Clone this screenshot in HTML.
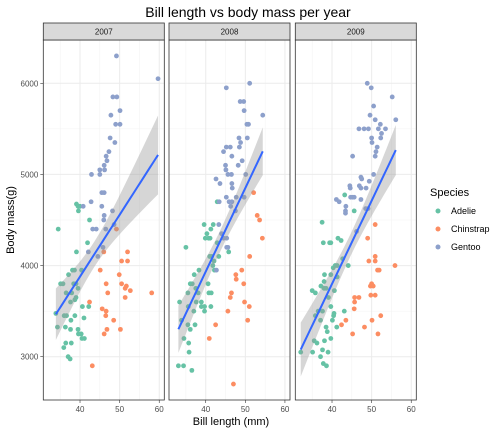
<!DOCTYPE html>
<html><head><meta charset="utf-8">
<style>
body{margin:0;background:#fff;}
svg{display:block;font-family:"Liberation Sans",sans-serif;}
</style></head>
<body>
<svg id="chart" width="504" height="432" viewBox="0 0 504 432" xmlns="http://www.w3.org/2000/svg">
<text x="248" y="17" font-size="14" text-anchor="middle" fill="#000">Bill length vs body mass per year</text>
<text transform="translate(14,220) rotate(-90)" font-size="11" text-anchor="middle" fill="#000">Body mass(g)</text>
<text x="231" y="425" font-size="11" text-anchor="middle" fill="#000">Bill length (mm)</text>
<g>
<text x="430" y="196" font-size="11">Species</text>
<circle cx="438" cy="211" r="2.5" fill="#66C2A5"/>
<text x="451" y="214" font-size="9">Adelie</text>
<circle cx="438" cy="229" r="2.5" fill="#FC8D62"/>
<text x="451" y="232" font-size="9">Chinstrap</text>
<circle cx="438" cy="247" r="2.5" fill="#8DA0CB"/>
<text x="451" y="250" font-size="9">Gentoo</text>
</g>
</svg>
<script>
const years = ["2007","2008","2009"];
const yTicks = [3000,4000,5000,6000];
const xTicks = [40,50,60];
// [bill length, body mass]
const adelie2007 = [[34.5,4400],[39.1,4675],[39.5,4650],[40,4650],[39.6,4600],[42.4,4500],[41.9,4250],[39.1,4150],[38.1,3950],[38.6,3950],[40.4,3950],[37.1,3900],[35.1,3800],[35.7,3800],[38.4,3800],[39,3800],[36.5,3700],[37.9,3700],[39.5,3750],[39,3650],[38.7,3625],[37.6,3600],[33.9,3475],[40.6,3550],[42.2,3550],[36,3450],[36.6,3450],[38.7,3450],[37.7,3400],[41,3425],[34.3,3325],[36.3,3325],[37.6,3300],[39.5,3300],[39.6,3250],[40.3,3250],[40.5,3200],[41.1,3200],[36.4,3150],[37.8,3150],[35.9,3100],[37,3000],[37.5,2975]];
const chinstrap2007 = [[49.2,4400],[46,4150],[52,4150],[50.5,4050],[52,4050],[45.1,3950],[49.9,3900],[46.6,3800],[50.5,3800],[51.7,3775],[47,3700],[51.4,3750],[52.7,3725],[51.4,3650],[58.1,3700],[42.4,3600],[45.6,3525],[46.6,3500],[46.5,3450],[48.5,3400],[46.8,3300],[50.2,3300],[46.1,3250],[43.1,2900]];
const gentoo2007 = [[49.2,6300],[59.7,6050],[48.3,5850],[49.3,5850],[50.1,5700],[47.8,5650],[49,5550],[50.1,5550],[47.6,5400],[48.8,5350],[47.3,5250],[46.6,5200],[46.8,5150],[46.1,5100],[45,5050],[46.2,5050],[42.9,5000],[45,5000],[45.5,4800],[46.1,4800],[42.8,4700],[40.8,4650],[45.5,4650],[48.2,4600],[46.1,4550],[46,4500],[48.6,4450],[43.2,4400],[44.1,4400],[46.5,4400],[45.8,4200],[42.1,4150],[44.5,4100]];
const adelie2008 = [[42.9,4700],[39.6,4450],[41.9,4450],[41.3,4400],[40.3,4350],[39.9,4300],[40.7,4300],[41.1,4300],[42.9,4250],[35,4200],[45.8,4150],[41,4100],[41.5,4100],[43.3,4100],[42.1,4050],[41.8,4000],[42.2,3950],[38.3,3950],[37.1,3900],[40.6,3800],[36.1,3800],[36.6,3800],[37.5,3750],[35.5,3700],[38.1,3700],[40.8,3700],[41.4,3700],[33.4,3600],[37.6,3600],[38.9,3600],[35.6,3550],[38.9,3550],[39.7,3550],[41.3,3550],[37,3500],[39.7,3500],[33.9,3400],[36.1,3300],[35.5,3350],[37.3,3350],[34.5,3200],[35.7,3150],[35.8,3050],[33.1,2900],[34.4,2900],[36.5,2850]];
const chinstrap2008 = [[52.1,4800],[53,4550],[53.6,4500],[54.3,4300],[51.1,4100],[49.1,3950],[47.6,3900],[47.7,3850],[49.6,3800],[46.5,3700],[46.2,3650],[49.8,3600],[51,3550],[45.6,3500],[50.6,3400],[42.5,3350],[40.9,3200],[47,2700]];
const gentoo2008 = [[51.1,6000],[45.2,5950],[48.7,5800],[49.6,5800],[49.7,5700],[50.4,5550],[50.8,5550],[54.4,5650],[48.4,5400],[50.5,5400],[48.8,5350],[45.2,5300],[46.2,5300],[48.5,5300],[44.5,5250],[46.6,5200],[49.2,5150],[45,5100],[48.2,5100],[45.1,5050],[45.6,5000],[46.5,5000],[50.1,5000],[42.6,4950],[43.6,4900],[46.6,4900],[46.7,4850],[45.2,4750],[47.7,4750],[49.7,4750],[45.9,4700],[46.6,4700],[43.4,4700],[46.3,4650],[47.5,4600],[43.3,4450],[44,4350],[44.5,4300],[45.3,4300],[45.3,4200],[45.6,4200],[42.7,3950]];
const adelie2009 = [[43.2,4775],[45.6,4600],[37.5,4475],[37.8,4250],[39.4,4250],[39.7,4250],[41.5,4300],[42.3,4275],[42.7,4075],[40.3,3975],[40.8,4000],[41.3,4000],[44.1,4000],[38.1,3900],[41.3,3875],[39.7,3900],[38,3825],[37.2,3775],[38,3750],[38.5,3750],[40.6,3725],[35,3725],[35.8,3700],[39.1,3650],[39.7,3550],[36.5,3500],[37.6,3500],[43.1,3500],[40.5,3475],[40.4,3450],[35.8,3450],[37.1,3400],[40.1,3400],[38.5,3325],[41.2,3325],[38.8,3275],[35.5,3175],[36.2,3150],[38.1,3175],[39.7,3200],[32.1,3050],[35.1,3050],[37.6,3075],[39,3050],[37.1,3000],[37.8,2925],[38.6,2900]];
const chinstrap2009 = [[50.9,4450],[49,4300],[50.9,4100],[50.9,4050],[49.3,4050],[55.9,4000],[51.5,3950],[51.9,3950],[50,3800],[49.7,3775],[50.4,3775],[49.8,3675],[50.9,3675],[45.7,3650],[46.8,3650],[45.7,3600],[45.6,3525],[52.3,3450],[50.1,3400],[43.5,3400],[42.4,3350],[48.2,3325],[45.2,3250],[51.6,3250]];
const gentoo2009 = [[48.9,6000],[49.9,5950],[55.2,5850],[50.5,5750],[49.6,5650],[56.1,5600],[50.9,5600],[52.2,5550],[46.8,5500],[48.1,5500],[49.2,5500],[51.7,5500],[53.5,5500],[52.5,5450],[50,5400],[52.3,5400],[50.1,5350],[51.4,5300],[51.1,5250],[50.9,5200],[45.2,5200],[50.5,5000],[47.3,4970],[47.5,4950],[49.4,4925],[44.5,4875],[44.6,4850],[46.9,4875],[47.3,4850],[48.6,4850],[44.7,4750],[45.2,4750],[45.6,4750],[47.3,4725],[41.1,4725],[41.8,4700],[43.5,4650],[48.5,4625],[49.1,4625],[43.4,4600],[43.4,4575],[46.2,4375]];

const panelData = [
  {adelie:adelie2007, chinstrap:chinstrap2007, gentoo:gentoo2007},
  {adelie:adelie2008, chinstrap:chinstrap2008, gentoo:gentoo2008},
  {adelie:adelie2009, chinstrap:chinstrap2009, gentoo:gentoo2009}
];
const colors = {adelie:"#66C2A5", chinstrap:"#FC8D62", gentoo:"#8DA0CB"};

const NS="http://www.w3.org/2000/svg";
const svg=document.getElementById("chart");
const panelX0=[43.3,169,295.3], PW=121, PT=40, PB=400;
const XMIN=30.73, XMAX=61.28, YMIN=2525, YMAX=6475;
function mk(tag,attrs,parent){const e=document.createElementNS(NS,tag);for(const k in attrs)e.setAttribute(k,attrs[k]);(parent||svg).appendChild(e);return e;}
function fit(pts){
  const n=pts.length;let mx=0,my=0;pts.forEach(p=>{mx+=p[0];my+=p[1];});mx/=n;my/=n;
  let sxx=0,sxy=0;pts.forEach(p=>{sxx+=(p[0]-mx)**2;sxy+=(p[0]-mx)*(p[1]-my);});
  const b=sxy/sxx,a=my-b*mx;let sse=0;pts.forEach(p=>{sse+=(p[1]-a-b*p[0])**2;});
  const s=Math.sqrt(sse/(n-2));
  return {a,b,s,mx,sxx,n};
}
panelData.forEach((pd,i)=>{
  const x0=panelX0[i];
  const sx=v=>x0+(v-XMIN)/(XMAX-XMIN)*PW;
  const sy=v=>PB-(v-YMIN)/(YMAX-YMIN)*(PB-PT);
  const g=mk("g",{});
  
  
  const bg=mk("rect",{x:x0,y:PT,width:PW,height:PB-PT,fill:"#fff"},g);
  
  
  // minor grid
  [2500,3500,4500,5500,6500].forEach(v=>{if(v>YMIN&&v<YMAX){const l=mk("line",{x1:x0,x2:x0+PW,y1:sy(v),y2:sy(v),stroke:"#F2F2F2","stroke-width":0.5},g);}});
  [35,45,55].forEach(v=>{const l=mk("line",{x1:sx(v),x2:sx(v),y1:PT,y2:PB,stroke:"#F2F2F2","stroke-width":0.5},g);});
  yTicks.forEach(v=>{const l=mk("line",{x1:x0,x2:x0+PW,y1:sy(v),y2:sy(v),stroke:"#EBEBEB","stroke-width":1},g);});
  xTicks.forEach(v=>{const l=mk("line",{x1:sx(v),x2:sx(v),y1:PT,y2:PB,stroke:"#EBEBEB","stroke-width":1},g);
    const tk=mk("line",{x1:sx(v),x2:sx(v),y1:PB,y2:PB+3,stroke:"#333","stroke-width":0.6},g);
    const t=mk("text",{x:sx(v),y:PB+12,"font-size":8,"text-anchor":"middle",fill:"#4D4D4D"},g);t.textContent=v;});
  if(i===0){yTicks.forEach(v=>{const tk=mk("line",{x1:x0-3,x2:x0,y1:sy(v),y2:sy(v),stroke:"#333","stroke-width":0.6},g);
    const t=mk("text",{x:x0-5,y:sy(v)+3,"font-size":8,"text-anchor":"end",fill:"#4D4D4D"},g);t.textContent=v;});}
  // points
  ["adelie","chinstrap","gentoo"].forEach(sp=>{pd[sp].forEach(p=>{const c=mk("circle",{cx:sx(p[0]),cy:sy(p[1]),r:2.4,fill:colors[sp]},g);});});
  // regression
  const all=pd.adelie.concat(pd.chinstrap,pd.gentoo);
  const f=fit(all);
  const xs=all.map(p=>p[0]);const lo=Math.min(...xs),hi=Math.max(...xs);
  const N=40,up=[],dn=[],mid=[];
  for(let k=0;k<=N;k++){const x=lo+(hi-lo)*k/N;const y=f.a+f.b*x;const se=f.s*Math.sqrt(1/f.n+(x-f.mx)**2/f.sxx)*1.98;
    mid.push(sx(x)+","+sy(y));up.push(sx(x)+","+sy(y+se));dn.push(sx(x)+","+sy(y-se));}
  const band=mk("polygon",{points:up.concat(dn.reverse()).join(" "),fill:"#999","fill-opacity":0.4},g);
  
  const ln=mk("polyline",{points:mid.join(" "),fill:"none",stroke:"#3366FF","stroke-width":2},g);
  
  const bd=mk("rect",{x:x0,y:PT,width:PW,height:PB-PT,fill:"none",stroke:"#333","stroke-width":0.8},g);
  
  const st=mk("rect",{x:x0,y:23,width:PW,height:17,fill:"#D9D9D9",stroke:"#333","stroke-width":0.8},g);
  
  const stt=mk("text",{x:x0+PW/2,y:34.5,"font-size":8,"text-anchor":"middle",fill:"#1A1A1A"},g);
  stt.textContent=years[i];
  
});
</script>
</body></html>
